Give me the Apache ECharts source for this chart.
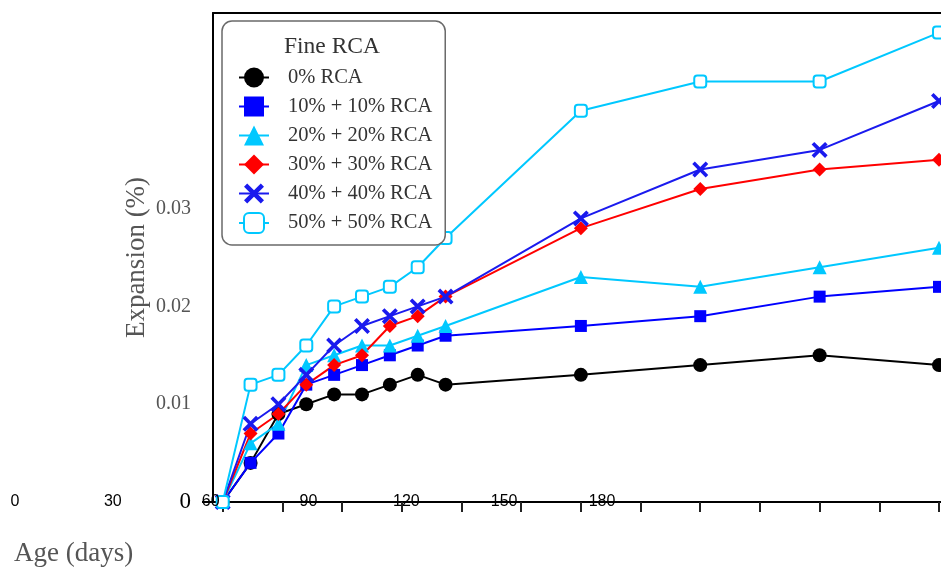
<!DOCTYPE html>
<html><head><meta charset="utf-8">
<script src="https://cdn.jsdelivr.net/npm/echarts@6/dist/echarts.min.js"></script>
<style>html,body{margin:0;padding:0;background:#fff}#c{width:941px;height:568px}</style>
</head><body><div id="c"></div>
<script>
const ageDays = [0, 7, 14, 21, 28, 35, 42, 49, 56, 90, 120, 150, 180];
const xTickDays = [0, 15, 30, 45, 60, 75, 90, 105, 120, 135, 150, 165, 180];
const xTickLabels = ['0', '30', '60', '90', '120', '150', '180'];
const yTickLabels = ['0', '0.01', '0.02', '0.03'];
const seriesNames = ['0% RCA', '10% + 10% RCA', '20% + 20% RCA', '30% + 30% RCA', '40% + 40% RCA', '50% + 50% RCA'];
const rca0  = [0, 0.004, 0.009, 0.010, 0.011, 0.011, 0.012, 0.013, 0.012, 0.013, 0.014, 0.015, 0.014];
const rca10 = [0, 0.004, 0.007, 0.012, 0.013, 0.014, 0.015, 0.016, 0.017, 0.018, 0.019, 0.021, 0.022];
const rca20 = [0, 0.006, 0.008, 0.014, 0.015, 0.016, 0.016, 0.017, 0.018, 0.023, 0.022, 0.024, 0.026];
const rca30 = [0, 0.007, 0.009, 0.012, 0.014, 0.015, 0.018, 0.019, 0.021, 0.028, 0.032, 0.034, 0.035];
const rca40 = [0, 0.008, 0.010, 0.013, 0.016, 0.018, 0.019, 0.020, 0.021, 0.029, 0.034, 0.036, 0.041];
const rca50 = [0, 0.012, 0.013, 0.016, 0.020, 0.021, 0.022, 0.024, 0.027, 0.040, 0.043, 0.043, 0.048];

const seriesValues = [rca0, rca10, rca20, rca30, rca40, rca50];
const xPath = 'path://M0,1.6L1.6,0L5,3.4L8.4,0L10,1.6L6.6,5L10,8.4L8.4,10L5,6.6L1.6,10L0,8.4L3.4,5Z';
const styles = [
  {color: '#000000', symbol: 'circle', size: 14},
  {color: '#0000ff', symbol: 'rect', size: 12},
  {color: '#00c8ff', symbol: 'triangle', size: 14},
  {color: '#ff0000', symbol: 'diamond', size: 14},
  {color: '#1a1aee', symbol: xPath, size: 16},
  {color: '#00c8ff', symbol: 'emptyRoundRect', size: 12}
];
const serif = 'Liberation Serif';
const chart = echarts.init(document.getElementById('c'));
const option = {
  animation: false,
  backgroundColor: '#fff',
  grid: [
    {left: 213, right: 0, top: 13, bottom: 66},
    {left: 15, right: 339, top: 13, bottom: 66}
  ],
  title: {
    text: 'Age (days)', left: 9, top: 535,
    textStyle: {fontFamily: serif, fontSize: 27, fontWeight: 'normal', color: '#555'}
  },
  xAxis: [
    {
      type: 'value', gridIndex: 0, min: -2.44, max: 180.5,
      axisLine: {onZero: false, lineStyle: {color: '#000', width: 2}},
      axisTick: {show: true, customValues: xTickDays, length: 10, lineStyle: {color: '#222', width: 2}},
      axisLabel: {show: false}, splitLine: {show: false}
    },
    {
      type: 'value', gridIndex: 0, position: 'top', min: -2.44, max: 180.5,
      axisLine: {onZero: false, lineStyle: {color: '#000', width: 2}},
      axisTick: {show: false}, axisLabel: {show: false}, splitLine: {show: false}
    },
    {
      type: 'value', gridIndex: 1, min: 0, max: 180, interval: 30, z: 20,
      axisLine: {show: false}, axisTick: {show: false}, splitLine: {show: false},
      axisLabel: {
        margin: 0, verticalAlign: 'middle', fontFamily: 'Liberation Sans', fontSize: 16, color: '#000',
        formatter: v => xTickLabels[Math.round(v / 30)]
      }
    }
  ],
  yAxis: [
    {
      type: 'value', gridIndex: 0, min: 0, max: 0.05, interval: 0.005,
      name: 'Expansion (%)', nameLocation: 'middle', nameGap: 63, nameMoveOverlap: false,
      nameTextStyle: {fontFamily: serif, fontSize: 27, color: '#555'},
      axisLine: {show: true, onZero: false, lineStyle: {color: '#000', width: 2}},
      axisTick: {show: true, customValues: [0], length: 11, lineStyle: {color: '#000', width: 2}},
      splitLine: {show: true, lineStyle: {color: '#c0c0c0', width: 1.5}},
      axisLabel: {
        margin: 22, fontFamily: serif, fontSize: 20, color: '#555',
        formatter: v => {
          const k = Math.round(v / 0.01);
          if (Math.abs(v - k * 0.01) > 1e-9 || k >= yTickLabels.length) return '';
          return k === 0 ? '{z|' + yTickLabels[0] + '}' : yTickLabels[k];
        },
        rich: {z: {fontFamily: serif, fontSize: 23, color: '#000'}}
      }
    },
    {type: 'value', gridIndex: 1, min: 0, max: 1, show: false}
  ],
  legend: {
    orient: 'vertical', left: 222, top: 21,
    itemWidth: 30, itemHeight: 25, itemGap: 8,
    padding: [46, 13, 11, 16],
    backgroundColor: '#fff', borderColor: '#6a6a6a', borderWidth: 1.5, borderRadius: 10,
    textStyle: {fontFamily: serif, fontSize: 20.5, color: '#333', padding: [0, 0, 0, 14]},
    data: seriesNames, z: 8
  },
  graphic: [{
    type: 'text', x: 332, y: 47, z: 50,
    style: {text: 'Fine RCA', textAlign: 'center', textVerticalAlign: 'middle',
      fontFamily: serif, fontSize: 23.5, fill: '#333'}
  }],
  series: seriesNames.map((name, i) => ({
    name, type: 'line', xAxisIndex: 0, yAxisIndex: 0,
    data: ageDays.map((d, j) => [d, seriesValues[i][j]]),
    symbol: styles[i].symbol, symbolSize: styles[i].size,
    showAllSymbol: true,
    lineStyle: {color: styles[i].color, width: 2},
    itemStyle: {color: styles[i].color, borderWidth: i === 5 ? 2.5 : 0},
    emphasis: {disabled: true}
  }))
};
chart.setOption(option);
</script></body></html>
